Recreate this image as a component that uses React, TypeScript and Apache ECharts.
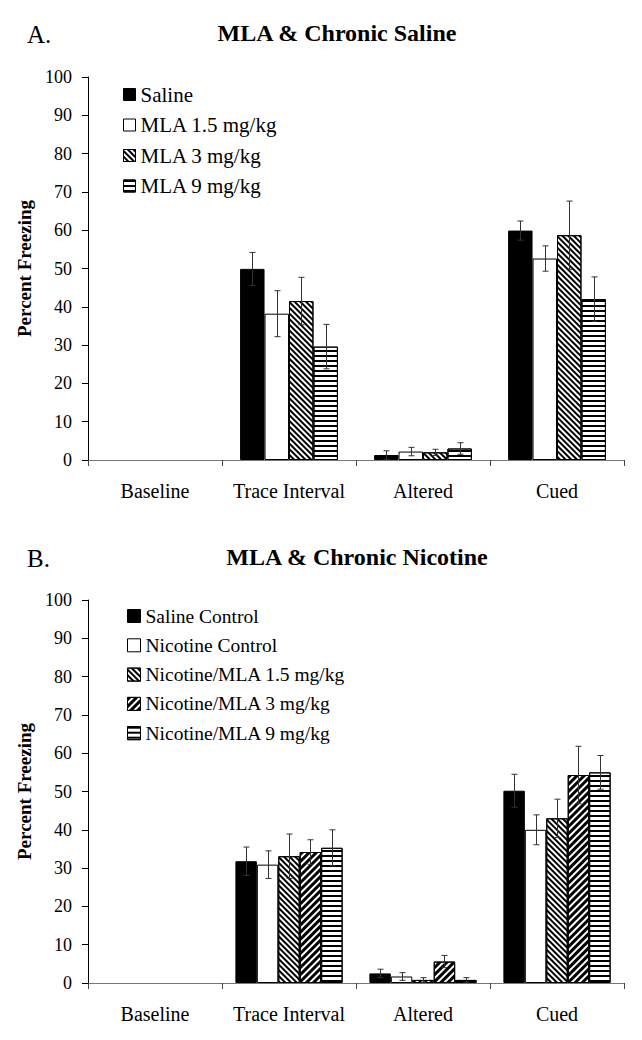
import React, { useEffect, useRef } from "react";
import * as echarts from "echarts";

const categories = ["Baseline", "Trace Interval", "Altered", "Cued"];

// Panel A
const namesA = ["Saline", "MLA 1.5 mg/kg", "MLA 3 mg/kg", "MLA 9 mg/kg"];
const salineA = [0, 49.9, 1.3, 59.9];
const salineAErr = [0, 4.3, 1.1, 2.5];
const mla15A = [0, 38.2, 2.2, 52.6];
const mla15AErr = [0, 6.0, 1.1, 3.3];
const mla3A = [0, 41.5, 2.0, 58.7];
const mla3AErr = [0, 6.2, 0.8, 8.9];
const mla9A = [0, 29.6, 3.0, 42.0];
const mla9AErr = [0, 5.8, 1.5, 5.8];

// Panel B
const namesB = [
  "Saline Control",
  "Nicotine Control",
  "Nicotine/MLA 1.5 mg/kg",
  "Nicotine/MLA 3 mg/kg",
  "Nicotine/MLA 9 mg/kg",
];
const salineB = [0, 31.8, 2.5, 50.2];
const salineBErr = [0, 3.7, 1.1, 4.3];
const nicB = [0, 30.9, 1.7, 40.0];
const nicBErr = [0, 3.6, 1.0, 3.9];
const nic15B = [0, 33.1, 0.8, 43.0];
const nic15BErr = [0, 5.8, 0.6, 5.0];
const nic3B = [0, 34.2, 5.6, 54.3];
const nic3BErr = [0, 3.2, 1.6, 7.5];
const nic9B = [0, 35.3, 0.8, 55.0];
const nic9BErr = [0, 4.7, 0.6, 4.4];

const FONT = "Liberation Serif";

type Fill = "black" | "white" | "back" | "fwd" | "horiz";

function decalFor(f: Fill): any {
  if (f === "back")
    return { symbol: "rect", symbolSize: 1, dashArrayX: [1, 0], dashArrayY: [1.5, 1.5], rotation: Math.PI / 4, color: "#000" };
  if (f === "fwd")
    return { symbol: "rect", symbolSize: 1, dashArrayX: [1, 0], dashArrayY: [2.4, 1.3], rotation: -Math.PI / 4, color: "#000" };
  if (f === "horiz")
    return { symbol: "rect", symbolSize: 1, dashArrayX: [1, 0], dashArrayY: [1.8, 2.4], rotation: 0, color: "#000" };
  return "none";
}

function barSeries(name: string, values: number[], fill: Fill, axisIdx: number, gap: string) {
  return {
    type: "bar",
    name,
    xAxisIndex: axisIdx,
    yAxisIndex: axisIdx,
    barGap: "0%",
    barCategoryGap: gap,
    data: values.map((v) => ({
      value: v,
      itemStyle: v === 0 ? { borderWidth: 0 } : undefined,
    })),
    itemStyle: {
      color: fill === "black" ? "#000" : "#fff",
      borderColor: "#000",
      borderWidth: 1,
      decal: decalFor(fill),
    },
  };
}

function errSeries(groups: number[][], errs: number[][], axisIdx: number, gapFrac: number) {
  const n = groups.length;
  const data: number[][] = [];
  groups.forEach((vals, k) => {
    vals.forEach((v, c) => {
      data.push([c, v, errs[k][c], k]);
    });
  });
  return {
    type: "custom",
    xAxisIndex: axisIdx,
    yAxisIndex: axisIdx,
    z: 10,
    silent: true,
    encode: { x: 0, y: 1 },
    data,
    renderItem: (params: any, api: any) => {
      const cat = api.value(0);
      const v = api.value(1);
      const e = api.value(2);
      const k = api.value(3);
      if (!e) return null;
      const c = api.coord([cat, v]);
      const band = api.size([1, 0])[0];
      const groupW = band * (1 - gapFrac);
      const bw = groupW / n;
      const x = Math.round(c[0] - groupW / 2 + bw * (k + 0.5)) + 0.5;
      const yTop = api.coord([cat, v + e])[1];
      const yBot = api.coord([cat, v - e])[1];
      const cap = 3;
      const st = { stroke: "#333", lineWidth: 1 };
      return {
        type: "group",
        children: [
          { type: "line", shape: { x1: x, y1: yTop, x2: x, y2: yBot }, style: st },
          { type: "line", shape: { x1: x - cap, y1: yTop, x2: x + cap, y2: yTop }, style: st },
          { type: "line", shape: { x1: x - cap, y1: yBot, x2: x + cap, y2: yBot }, style: st },
        ],
      };
    },
  };
}

function xAxis(gridIndex: number) {
  return {
    type: "category",
    gridIndex,
    data: categories,
    boundaryGap: true,
    axisLine: { lineStyle: { color: "#777", width: 1 } },
    axisTick: { show: true, length: 6, interval: 0, lineStyle: { color: "#444" } },
    axisLabel: { interval: 0, color: "#000", fontFamily: FONT, fontSize: 20, margin: 21 },
    splitLine: { show: false },
  };
}

function yAxis(gridIndex: number) {
  return {
    type: "value",
    gridIndex,
    min: 0,
    max: 100,
    interval: 10,
    name: "Percent Freezing",
    nameLocation: "middle",
    nameGap: 52,
    nameTextStyle: { fontFamily: FONT, fontSize: 19, fontWeight: "bold", color: "#000" },
    axisLine: { show: true, lineStyle: { color: "#000", width: 1 } },
    axisTick: { show: true, length: 6, lineStyle: { color: "#000" } },
    axisLabel: { color: "#000", fontFamily: FONT, fontSize: 18, margin: 16 },
    splitLine: { show: false },
  };
}

function legend(names: string[], left: number, top: number, gap: number, fs: number, icon: number) {
  return {
    orient: "vertical",
    left,
    top,
    padding: 0,
    data: names,
    icon: "rect",
    itemWidth: icon,
    itemHeight: icon,
    itemGap: gap,
    selectedMode: false,
    itemStyle: { borderColor: "#000", borderWidth: 1 },
    textStyle: { fontFamily: FONT, fontSize: fs, color: "#000", lineHeight: fs, padding: [0, 0, 0, 0] },
  };
}

function textEl(text: string, x: number, y: number, size: number, bold: boolean, align: string) {
  return {
    type: "text",
    x,
    y,
    style: {
      text,
      fontFamily: FONT,
      fontSize: size,
      fontWeight: bold ? "bold" : "normal",
      fill: "#000",
      align,
      textAlign: align,
      verticalAlign: "middle",
      textVerticalAlign: "middle",
    },
  };
}

export default function App() {
  const ref = useRef<HTMLDivElement>(null);
  useEffect(() => {
    if (!ref.current) return;
    const chart = echarts.init(ref.current, null, { renderer: "svg" });
    const gapA = 0.27;
    const gapB = 0.2;
    const groupsA = [salineA, mla15A, mla3A, mla9A];
    const errsA = [salineAErr, mla15AErr, mla3AErr, mla9AErr];
    const fillsA: Fill[] = ["black", "white", "back", "horiz"];
    const groupsB = [salineB, nicB, nic15B, nic3B, nic9B];
    const errsB = [salineBErr, nicBErr, nic15BErr, nic3BErr, nic9BErr];
    const fillsB: Fill[] = ["black", "white", "back", "fwd", "horiz"];

    const option: any = {
      animation: false,
      backgroundColor: "#fff",
      grid: [
        { left: 88, right: 18, top: 77, height: 383 },
        { left: 88, right: 18, top: 600, height: 383 },
      ],
      xAxis: [xAxis(0), xAxis(1)],
      yAxis: [yAxis(0), yAxis(1)],
      legend: [legend(namesA, 123, 84, 9.5, 21, 12), legend(namesB, 127, 606, 9.3, 19.5, 13)],
      graphic: [
        textEl("A.", 27, 34, 25, false, "left"),
        textEl("MLA & Chronic Saline", 337, 33, 24, true, "center"),
        textEl("B.", 27, 558, 25, false, "left"),
        textEl("MLA & Chronic Nicotine", 357, 557, 24, true, "center"),
      ],
      series: [
        ...groupsA.map((g, i) => barSeries(namesA[i], g, fillsA[i], 0, "27%")),
        errSeries(groupsA, errsA, 0, gapA),
        ...groupsB.map((g, i) => barSeries(namesB[i], g, fillsB[i], 1, "20%")),
        errSeries(groupsB, errsB, 1, gapB),
      ],
    };
    chart.setOption(option);
    return () => chart.dispose();
  }, []);
  return (
    <div
      ref={ref}
      style={{ position: "absolute", left: 0, top: 0, width: 642, height: 1040, background: "#fff" }}
    />
  );
}
